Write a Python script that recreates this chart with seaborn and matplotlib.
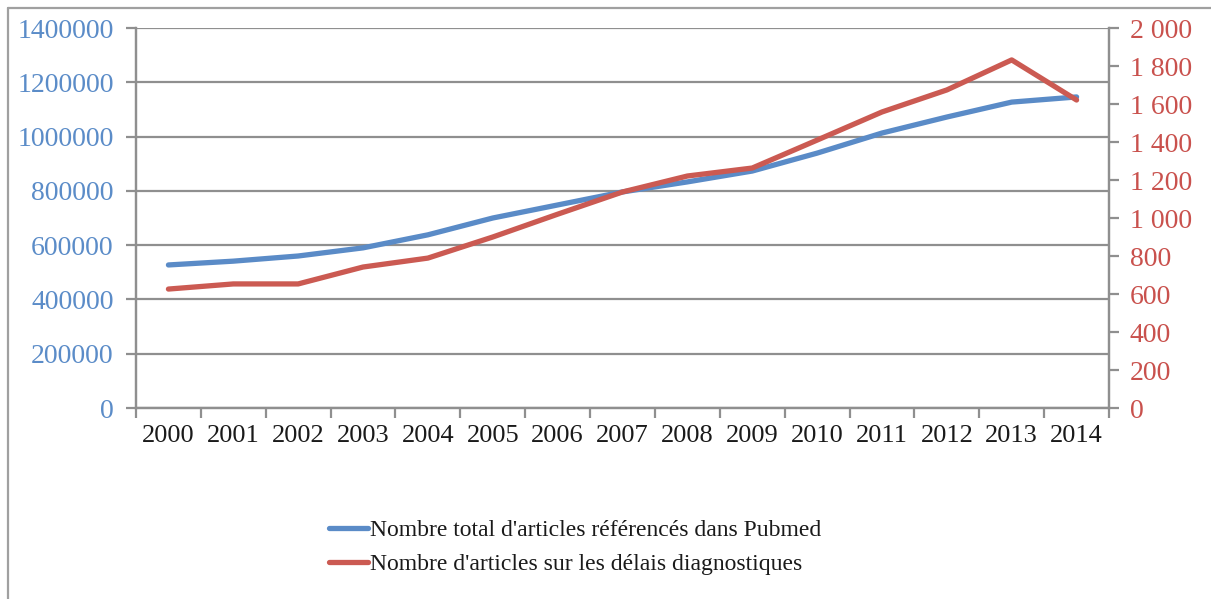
import pandas as pd
import matplotlib
matplotlib.use("Agg")
import matplotlib.pyplot as plt
import seaborn as sns
from matplotlib.ticker import FuncFormatter, FixedLocator
from matplotlib.lines import Line2D

# Données
annees = [str(a) for a in range(2000, 2015)]
total_pubmed = [527000, 541000, 560000, 590000, 638000, 700000, 748000, 796000,
                833000, 873000, 939000, 1013000, 1072000, 1127000, 1146000]
delais_diag = [626, 653, 653, 742, 789, 900, 1020, 1137,
               1221, 1263, 1410, 1558, 1674, 1832, 1621]

lab_total = "Nombre total d'articles référencés dans Pubmed"
lab_delais = "Nombre d'articles sur les délais diagnostiques"

df = pd.DataFrame({'annee': annees, 'total': total_pubmed, 'delais': delais_diag})

bleu = '#5a8bc7'
rouge = '#cb5a52'
gris = '#8f8f8f'

sns.set_theme(style='white')
plt.rcParams['font.family'] = ['Liberation Serif', 'DejaVu Serif']

fig = plt.figure(figsize=(12.11, 5.99), dpi=100)
ax = fig.add_axes([136 / 1211, 1 - 408 / 599, (1109 - 136) / 1211, (408 - 28) / 599])
ax2 = ax.twinx()

sns.lineplot(data=df, x='annee', y='total', ax=ax, color=bleu, linewidth=3.8,
             solid_capstyle='round', sort=False, legend=False)
sns.lineplot(data=df, x='annee', y='delais', ax=ax2, color=rouge, linewidth=3.8,
             solid_capstyle='round', sort=False, legend=False)

ax.set_xlim(-0.5, len(annees) - 0.5)
ax.set_ylim(0, 1400000)
ax2.set_ylim(0, 2000)
ax.set_yticks(range(0, 1400001, 200000))
ax2.set_yticks(range(0, 2001, 200))
ax.yaxis.set_major_formatter(FuncFormatter(lambda v, p: f"{int(v)}"))
ax2.yaxis.set_major_formatter(FuncFormatter(lambda v, p: f"{int(v):,}".replace(",", " ")))

# ticks aux limites des catégories, étiquettes au centre
ax.xaxis.set_major_locator(FixedLocator([i - 0.5 for i in range(len(annees) + 1)]))
ax.xaxis.set_minor_locator(FixedLocator(list(range(len(annees)))))
ax.set_xticklabels([], minor=False)
ax.set_xticklabels(annees, minor=True)
ax.tick_params(axis='x', which='major', direction='out', length=7, width=1.6,
               color=gris, bottom=True)
ax.tick_params(axis='x', which='minor', length=0, pad=12, labelsize=19,
               labelcolor='#1a1a1a', bottom=True)

ax.tick_params(axis='y', direction='out', length=7, width=1.6, color=gris,
               left=True, pad=9, labelsize=20, labelcolor='#5b8cc8')
ax2.tick_params(axis='y', direction='out', length=7, width=1.6, color=gris,
                right=True, pad=8, labelsize=20, labelcolor='#c9514d')

ax.set_xlabel('')
ax.set_ylabel('')
ax2.set_ylabel('')
ax.grid(axis='y', color=gris, linewidth=1.6)
ax.set_axisbelow(True)
for a in (ax, ax2):
    a.spines['top'].set_visible(False)
    for s in ('left', 'right', 'bottom'):
        a.spines[s].set_color(gris)
        a.spines[s].set_linewidth(1.6)
ax.set_zorder(ax2.get_zorder() - 1)
ax2.patch.set_visible(False)

# cadre extérieur
fig.add_artist(Line2D([8 / 1211, 8 / 1211], [0, 1 - 8 / 599], color='#a0a0a0', linewidth=1.6))
fig.add_artist(Line2D([8 / 1211, 1], [1 - 8 / 599, 1 - 8 / 599], color='#a0a0a0', linewidth=1.6))

handles = [Line2D([], [], color=bleu, linewidth=3.8, solid_capstyle='round'),
           Line2D([], [], color=rouge, linewidth=3.8, solid_capstyle='round')]
fig.legend(handles, [lab_total, lab_delais], loc='upper left',
           bbox_to_anchor=(320 / 1211, 1 - 510 / 599), frameon=False,
           fontsize=17, handlelength=1.65, handletextpad=0.05, labelspacing=0.55,
           labelcolor='#1a1a1a', borderaxespad=0)

fig.savefig('out.png', dpi=100)
